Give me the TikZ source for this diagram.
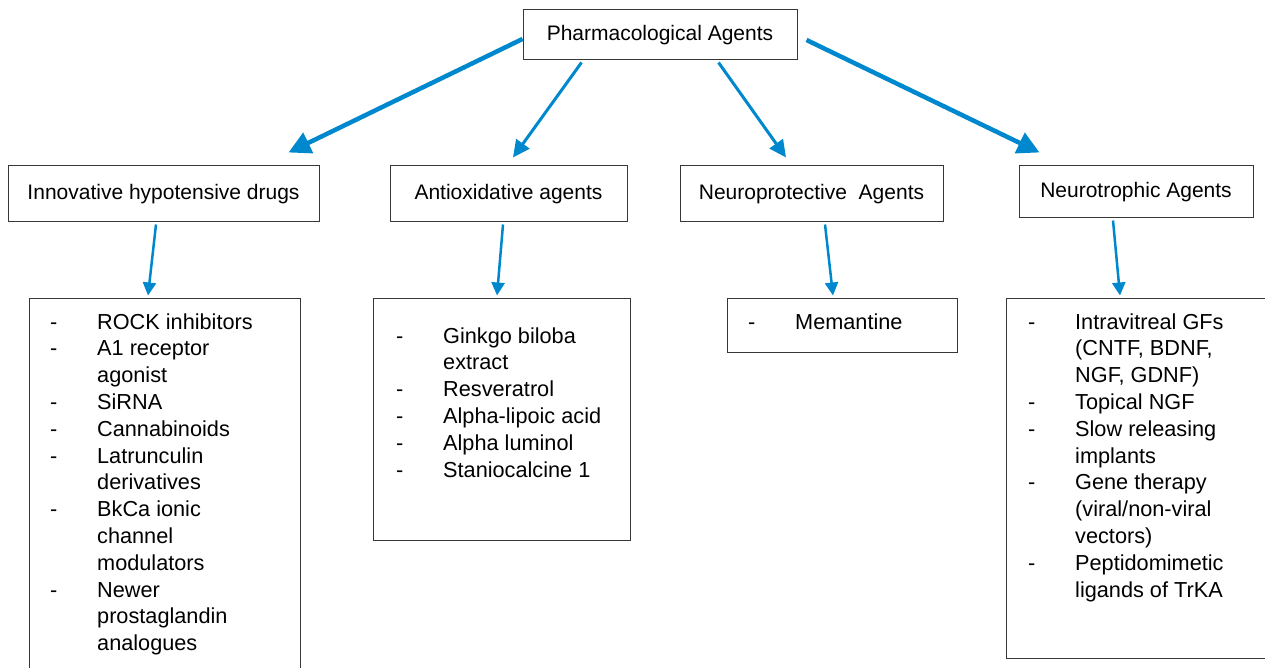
\documentclass[tikz,border=0pt]{standalone}
\usepackage{fontspec}
\setmainfont{Liberation Sans}
\usetikzlibrary{arrows.meta,calc}
\definecolor{arr}{RGB}{0,136,206}
\definecolor{edge}{RGB}{55,55,55}
\newcommand\itm[1]{\makebox[47pt][l]{-}#1}
\newcommand\cnt[1]{\hspace*{47pt}#1}
\begin{document}
\begin{tikzpicture}[x=1pt,y=-1pt,
 hbox/.style={draw=edge,line width=1pt,inner sep=0,font=\fontsize{21}{25}\selectfont,text height=15pt,text depth=4.5pt},
 lbox/.style={draw=edge,line width=1pt,inner sep=0},
 ltext/.style={anchor=base west,inner sep=0,font=\fontsize{21.7}{26.8}\selectfont},
 bigarr/.style={draw=arr,line width=4.5pt,-{Triangle[length=22pt,width=22pt]}},
 midarr/.style={draw=arr,line width=3pt,-{Triangle[length=17pt,width=16pt]}},
 smallarr/.style={draw=arr,line width=2.5pt,-{Triangle[length=13pt,width=13pt]}}]
\fill[white] (0,0) rectangle (1265,668);
\useasboundingbox (0,0) rectangle (1265,668);

\node[hbox,minimum width=274pt,minimum height=50pt] (top) at (660,35) {Pharmacological Agents};
\node[hbox,minimum width=311pt,minimum height=56pt] (b1) at (163.5,194) {Innovative hypotensive drugs};
\node[hbox,minimum width=237pt,minimum height=56pt] (b2) at (508.5,194) {Antioxidative agents};
\node[hbox,minimum width=263pt,minimum height=56pt] (b3) at (811.5,194) {Neuroprotective\ \ Agents};
\node[hbox,minimum width=234pt,minimum height=52pt] (b4) at (1136,192) {Neurotrophic Agents};

\node[lbox,minimum width=271pt,minimum height=402pt] (l1) at (164.5,499) {};
\node[lbox,minimum width=257pt,minimum height=242pt] (l2) at (501.5,419) {};
\node[lbox,minimum width=230pt,minimum height=54pt] (l3) at (842,325) {};
\node[lbox,minimum width=264pt,minimum height=360pt] (l4) at (1138,478) {};

\node[ltext] (t1) at (50,329) {\parbox[t]{250pt}{\raggedright
\itm{ROCK inhibitors}\\ \itm{A1 receptor}\\ \cnt{agonist}\\ \itm{SiRNA}\\ \itm{Cannabinoids}\\ \itm{Latrunculin}\\ \cnt{derivatives}\\ \itm{BkCa ionic}\\ \cnt{channel}\\ \cnt{modulators}\\ \itm{Newer}\\ \cnt{prostaglandin}\\ \cnt{analogues}}};
\node[ltext] (t2) at (396,343) {\parbox[t]{230pt}{\raggedright
\itm{Ginkgo biloba}\\ \cnt{extract}\\ \itm{Resveratrol}\\ \itm{Alpha-lipoic acid}\\ \itm{Alpha luminol}\\ \itm{Staniocalcine 1}}};
\node[ltext] (t3) at (748,329) {\parbox[t]{200pt}{\raggedright \itm{Memantine}}};
\node[ltext] (t4) at (1028,329) {\parbox[t]{235pt}{\raggedright
\itm{Intravitreal GFs}\\ \cnt{(CNTF, BDNF,}\\ \cnt{NGF, GDNF)}\\ \itm{Topical NGF}\\ \itm{Slow releasing}\\ \cnt{implants}\\ \itm{Gene therapy}\\ \cnt{(viral/non-viral}\\ \cnt{vectors)}\\ \itm{Peptidomimetic}\\ \cnt{ligands of TrKA}}};

\draw[bigarr] ($(top.west)+(0,4)$) -- ($(b1.north east)+(-31,-13)$);
\draw[midarr] ($(top.south west)+(59,2)$) -- ($(b2.north)+(4.5,-8)$);
\draw[midarr] ($(top.south east)+(-79,2)$) -- ($(b3.north)+(-25.5,-8)$);
\draw[bigarr] ($(top.east)+(9,5)$) -- ($(b4.north west)+(21,-13)$);

\draw[smallarr] ($(b1.south)+(-7.5,2)$) -- ($(l1.north)+(-16.5,-2)$);
\draw[smallarr] ($(b2.south)+(-5.5,2)$) -- ($(l2.north)+(-4.5,-2)$);
\draw[smallarr] ($(b3.south)+(13.5,2)$) -- ($(l3.north)+(-9,-2)$);
\draw[smallarr] ($(b4.south)+(-23,2)$) -- ($(l4.north)+(-18,-2)$);
\end{tikzpicture}
\end{document}
